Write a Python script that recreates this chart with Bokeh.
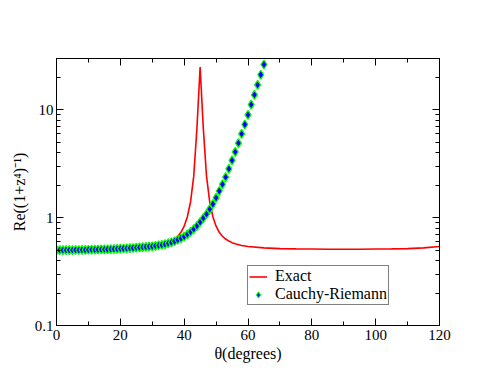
from bokeh.plotting import figure
from bokeh.models import (LinearAxis, LogAxis, SingleIntervalTicker, LogTicker,
                          Legend, LegendItem, CustomLabelingPolicy, CustomJSTickFormatter)
from bokeh.embed import file_html
from bokeh.resources import INLINE

# ---- data ----
exact_theta = [0, 5, 10, 15, 20, 25, 30, 32, 34, 35, 36, 37, 38, 39, 40, 41, 42, 43, 44, 45,
               46, 47, 48, 49, 50, 51, 52, 53, 54, 55, 56, 58, 60, 65, 70, 75, 80, 85, 90,
               95, 100, 105, 110, 115, 120]
exact_val = [0.510, 0.5105, 0.512, 0.514, 0.517, 0.525, 0.541, 0.553, 0.573, 0.587, 0.607,
             0.634, 0.673, 0.733, 0.834, 1.02, 1.40, 2.43, 6.74, 25.0,
             6.74, 2.43, 1.40, 1.02, 0.834, 0.733, 0.673, 0.634, 0.607, 0.587, 0.573, 0.553,
             0.541, 0.525, 0.517, 0.514, 0.512, 0.5105, 0.510, 0.5105, 0.512, 0.514, 0.517,
             0.525, 0.541]

cr_theta = list(range(0, 66))
cr_val = [0.500, 0.500, 0.500, 0.501, 0.501, 0.501, 0.502, 0.502, 0.503, 0.503,
          0.504, 0.505, 0.506, 0.507, 0.508, 0.509, 0.510, 0.511, 0.513, 0.514,
          0.516, 0.518, 0.520, 0.522, 0.524, 0.527, 0.530, 0.533, 0.536, 0.539,
          0.542, 0.547, 0.553, 0.560, 0.568, 0.578, 0.590, 0.605, 0.625, 0.645,
          0.670, 0.700, 0.740, 0.785, 0.840, 0.910, 0.990, 1.08, 1.20, 1.34,
          1.53, 1.77, 2.04, 2.38, 2.84, 3.40, 4.08, 4.92, 6.00, 7.33,
          9.0, 11.2, 13.8, 17.1, 21.2, 26.4]

x_ticks_interval = 20
x_lim = (0, 120)
y_lim = (0.1, 30)
x_label = "θ(degrees)"
y_label = "Re((1+z⁴)⁻¹)"
series_names = ["Exact", "Cauchy-Riemann"]

FONT = "Liberation Serif"

p = figure(width=485, height=374, x_range=x_lim, y_range=y_lim, y_axis_type="log",
           output_backend="svg", toolbar_location=None,
           min_border_left=56, min_border_right=46, min_border_top=58, min_border_bottom=49,
           x_axis_location=None, y_axis_location=None)
p.grid.visible = False
p.outline_line_color = "black"
p.outline_line_width = 1
p.background_fill_color = "white"
p.border_fill_color = "white"

hide_all = CustomLabelingPolicy(code="""
for (const i of indices) { indices.unset(i) }
return indices
""")


def style(ax, labels=True):
    ax.axis_line_color = "black"
    ax.major_tick_in = 7
    ax.major_tick_out = 0
    ax.minor_tick_in = 4
    ax.minor_tick_out = 0
    ax.major_tick_line_color = "black"
    ax.minor_tick_line_color = "black"
    ax.major_label_text_font = FONT
    ax.major_label_text_font_size = "15px"
    ax.major_label_text_color = "black"
    if labels:
        ax.axis_label_text_font = FONT
        ax.axis_label_text_font_size = "16px"
        ax.axis_label_text_font_style = "normal"
        ax.axis_label_text_color = "black"
    else:
        ax.major_label_policy = hide_all
        ax.major_label_standoff = 0


xb = LinearAxis(ticker=SingleIntervalTicker(interval=x_ticks_interval, num_minor_ticks=2),
                axis_label=x_label)
style(xb)
xb.major_label_standoff = 4
xb.axis_label_standoff = 2
p.add_layout(xb, "below")

xt = LinearAxis(ticker=SingleIntervalTicker(interval=x_ticks_interval, num_minor_ticks=2))
style(xt, labels=False)
p.add_layout(xt, "above")

log_fmt = CustomJSTickFormatter(code="return String(Number(tick.toPrecision(6)))")

yl = LogAxis(ticker=LogTicker(num_minor_ticks=10), axis_label=y_label, formatter=log_fmt)
style(yl)
yl.major_label_standoff = 3
yl.axis_label_standoff = 4
p.add_layout(yl, "left")

yr = LogAxis(ticker=LogTicker(num_minor_ticks=10), formatter=log_fmt)
style(yr, labels=False)
p.add_layout(yr, "right")

r_exact = p.line(exact_theta, exact_val, line_color="#ff0000", line_width=1.6)
r_cr = p.scatter(cr_theta, cr_val, marker="diamond", size=9, fill_color="#0000ff",
                 line_color="#00ff00", line_width=1.2)

legend = Legend(items=[LegendItem(label=series_names[0], renderers=[r_exact]),
                       LegendItem(label=series_names[1], renderers=[r_cr])],
                location=(191, 20))
legend.label_text_font = FONT
legend.label_text_font_size = "16px"
legend.label_text_color = "black"
legend.border_line_color = "black"
legend.border_line_width = 1
legend.background_fill_color = "white"
legend.background_fill_alpha = 1
legend.padding = 1
legend.spacing = 0
legend.margin = 0
legend.label_height = 15
legend.glyph_height = 15
legend.glyph_width = 18
legend.label_standoff = 8
p.add_layout(legend)

open("out.html", "w").write(file_html(p, INLINE))
